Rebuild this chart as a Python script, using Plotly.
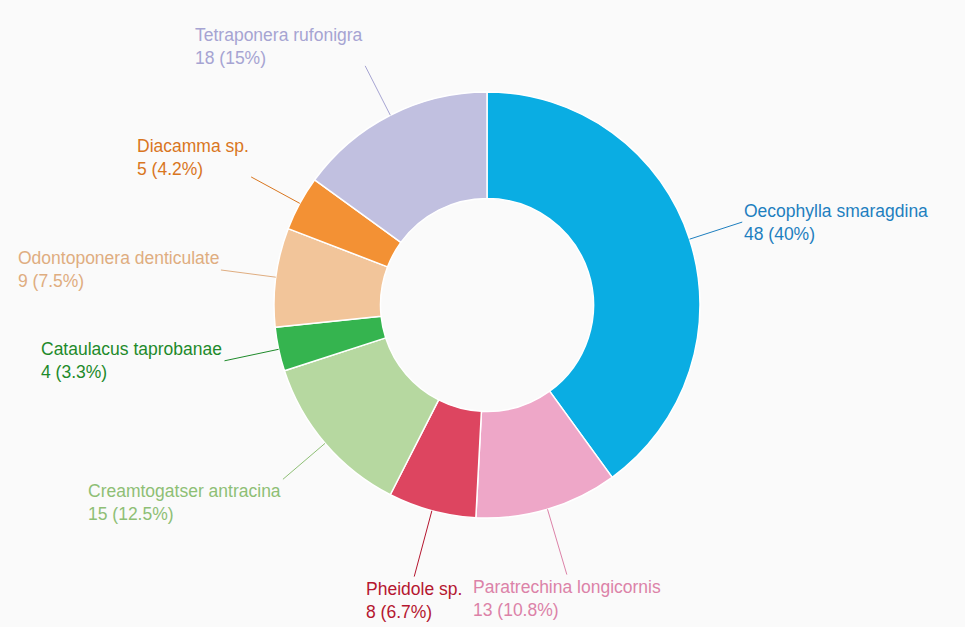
import math
import plotly.graph_objects as go

# ---- Data ----
SPECIES = ["Oecophylla smaragdina", "Paratrechina longicornis", "Pheidole sp.",
           "Creamtogatser antracina", "Cataulacus taprobanae", "Odontoponera denticulate",
           "Diacamma sp.", "Tetraponera rufonigra"]
COUNTS = [48, 13, 8, 15, 4, 9, 5, 18]
PCT_LABELS = ["40%", "10.8%", "6.7%", "12.5%", "3.3%", "7.5%", "4.2%", "15%"]

SLICE_COLORS = ["#0AADE3", "#EEA7C8", "#DD4560", "#B6D8A0",
                "#35B44F", "#F2C59A", "#F39134", "#C1C0E0"]
TEXT_COLORS = ["#1E7FBF", "#DC82A8", "#B5162F", "#8EBF75",
               "#1E8A2A", "#DFAD80", "#D9761E", "#A6A4D2"]

W, H = 965, 627
CX, CY, R = 487, 305, 213          # donut centre / outer radius in pixels
FONT = "Liberation Sans, Arial, sans-serif"
BG = "#FAFAFA"


def px_to_paper(x, y):
    return x / W, 1 - y / H


fig = go.Figure(go.Pie(
    labels=SPECIES, values=COUNTS,
    hole=0.5, sort=False, direction="clockwise", rotation=0,
    marker=dict(colors=SLICE_COLORS, line=dict(color="white", width=1.5)),
    textinfo="none", hoverinfo="label+value+percent",
    domain=dict(x=[(CX - R) / W, (CX + R) / W], y=[(H - CY - R) / H, (H - CY + R) / H]),
    showlegend=False,
))

# outside labels with leader lines, placed from each slice's mid-angle
total = sum(COUNTS)
cum = 0
for name, v, pct, tc in zip(SPECIES, COUNTS, PCT_LABELS, TEXT_COLORS):
    mid = (cum + v / 2) / total * 2 * math.pi
    cum += v
    s, c = math.sin(mid), math.cos(mid)
    centered = abs(s) < 0.4
    r_end = R * (1.32 if centered else 1.26)
    x0, y0 = CX + R * s, CY - R * c
    x1, y1 = CX + r_end * s, CY - r_end * c
    if centered:
        xa = "center"
    elif s > 0:
        xa = "left"
    else:
        xa = "right"
    if c > 0.4:
        ya, ys = "bottom", -4
    elif c < -0.4:
        ya, ys = "top", 0
    else:
        ya, ys = "middle", 0
    p0 = px_to_paper(x0, y0)
    p1 = px_to_paper(x1, y1)
    fig.add_shape(type="line", xref="paper", yref="paper",
                  x0=p0[0], y0=p0[1], x1=p1[0], y1=p1[1],
                  line=dict(color=tc, width=1))
    fig.add_annotation(
        xref="paper", yref="paper", x=p1[0], y=p1[1], yshift=ys,
        xanchor=xa, yanchor=ya, align="left", showarrow=False,
        text=f"{name}<br>{v} ({pct})",
        font=dict(family=FONT, size=17.5, color=tc),
    )

fig.update_layout(
    width=W, height=H,
    margin=dict(l=0, r=0, t=0, b=0),
    paper_bgcolor=BG, plot_bgcolor=BG,
    font=dict(family=FONT),
)

# drop the default page margin so the figure fills the window
fig.write_html("out.html", config={"displayModeBar": False},
               post_script=f"document.body.style.margin='0';document.body.style.background='{BG}';")
